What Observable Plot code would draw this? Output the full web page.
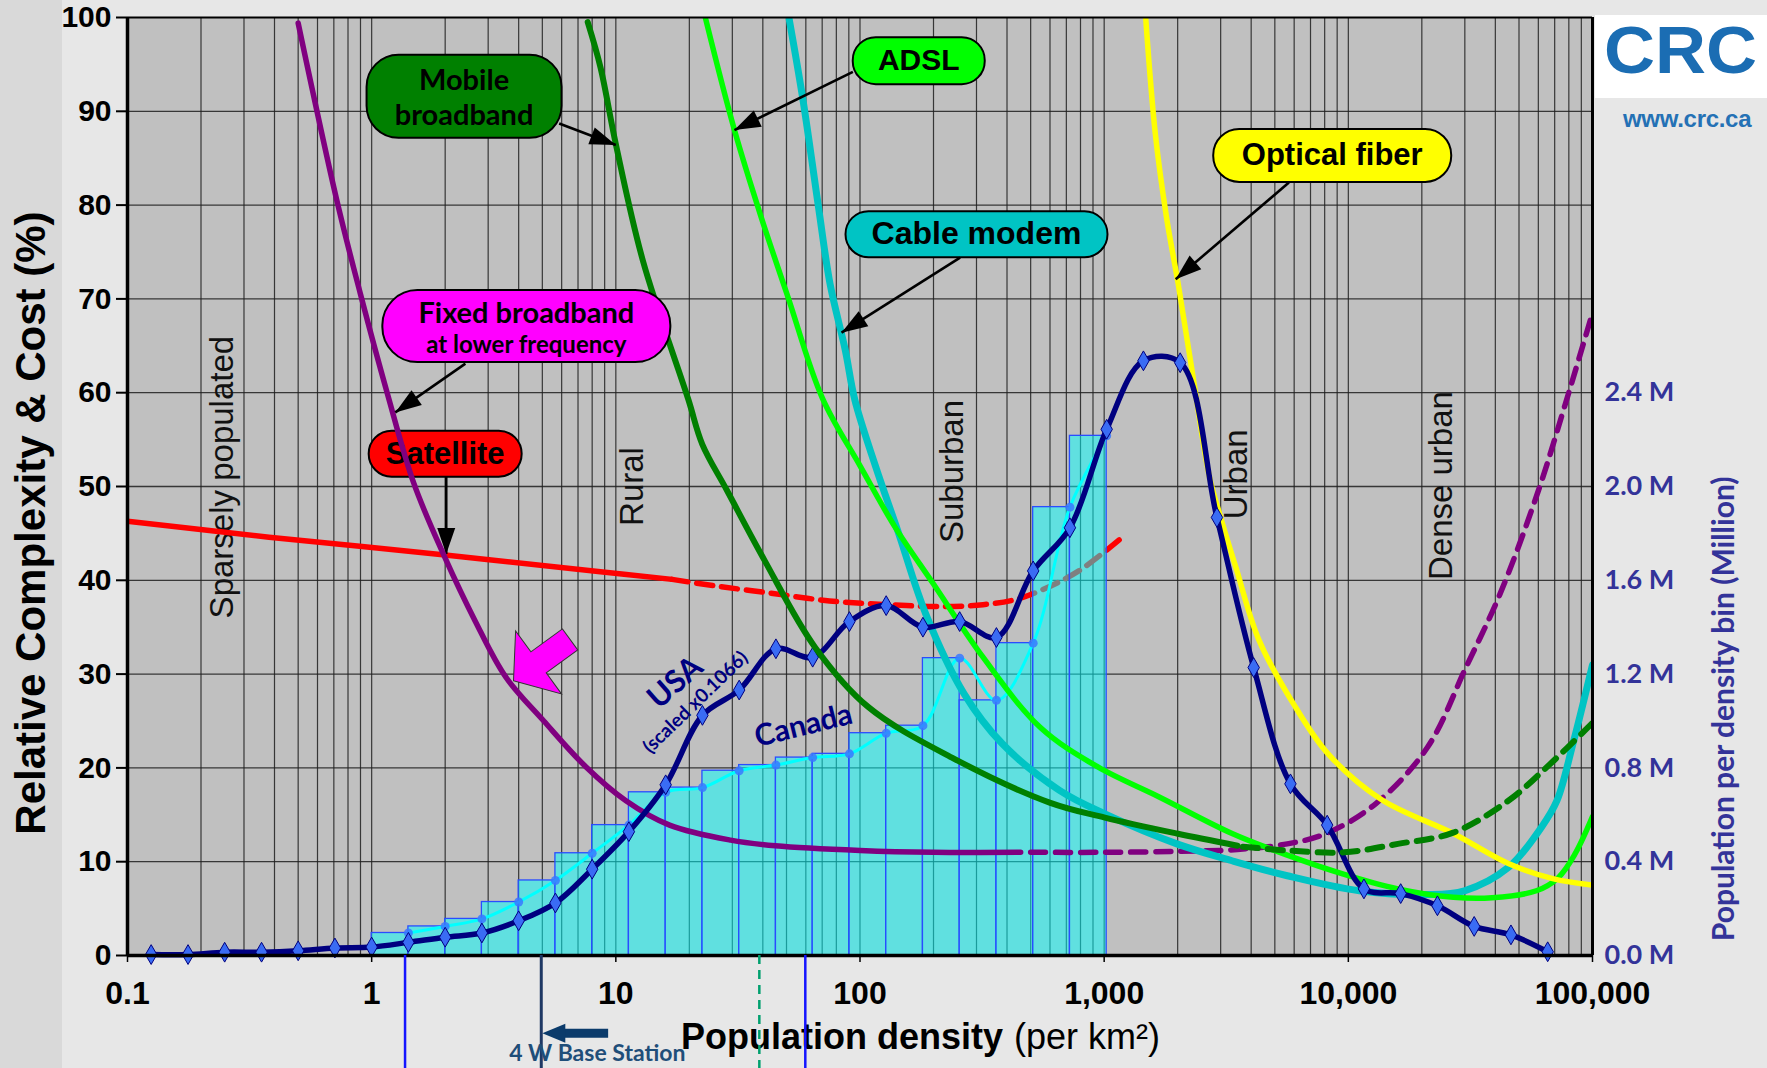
<!DOCTYPE html>
<html>
<head>
<meta charset="utf-8">
<script src="https://cdn.jsdelivr.net/npm/d3@7"></script>
<script src="https://cdn.jsdelivr.net/npm/@observablehq/plot@0.6"></script>
<style>
  html, body { margin: 0; padding: 0; background: #e7e7e7; }
  #page { position: relative; width: 1767px; height: 1068px; overflow: hidden; background: #e7e7e7; }
  #strip { position: absolute; left: 0; top: 0; width: 62px; height: 1068px; background: #d9d9d9; }
  #chart { position: absolute; left: 0; top: 0; }
  #logo { position: absolute; left: 1595px; top: 0px; }
</style>
</head>
<body>
<div id="page">
  <div id="strip"></div>
  <svg id="logo" width="172" height="140" viewBox="0 0 172 140">
    <rect x="0" y="15" width="172" height="83" fill="#ffffff"/>
    <text transform="translate(9,73) scale(1.07,1)" font-family="'Liberation Sans', Arial, sans-serif" font-weight="bold" font-size="66" fill="#1b6db3">CRC</text>
    <text x="28" y="127" font-family="'Liberation Sans', Arial, sans-serif" font-weight="bold" font-size="24" fill="#2471b5" letter-spacing="-0.3">www.crc.ca</text>
  </svg>
  <div id="chart"></div>
</div>
<script>
// ---------------- DATA ----------------
// x axis (population density, per km², log scale)
const xDecades = [0.1, 1, 10, 100, 1000, 10000, 100000];
const xTickLabels = ["0.1", "1", "10", "100", "1,000", "10,000", "100,000"];
// left axis (relative complexity & cost, %)
const yTicks = [0, 10, 20, 30, 40, 50, 60, 70, 80, 90, 100];
// right axis (population per density bin, million)
const rightTicksM = [0, 0.4, 0.8, 1.2, 1.6, 2.0, 2.4];
const MILLION_PER_PCT = 0.04; // 10 % on the left axis  <->  0.4 M on the right axis

// Technology curves (relative complexity & cost, %)
const satSolidX = [0.1, 0.38, 2, 8.65, 17];
const satSolidY = [46.3, 44.6, 42.7, 40.9, 40.1];
const satDashX = [17, 25.5, 44, 75, 129, 222, 319, 427, 548, 787, 1215];
const satDashY = [40.1, 39.4, 38.6, 37.8, 37.4, 37.2, 37.4, 37.9, 38.9, 41.0, 44.8];

const fixedSolidX = [0.5, 0.72, 0.9, 1.16, 1.49, 1.99, 2.65, 3.54, 5.07, 7.55, 11, 16.6, 29.5, 45, 100, 200, 455];
const fixedSolidY = [99.4, 80.5, 70.5, 59.9, 50.3, 42.5, 35.7, 29.7, 25.0, 20.1, 16.5, 13.9, 12.3, 11.7, 11.2, 11.0, 11.0];
const fixedDashX = [500, 1000, 2000, 3510, 5620, 8110, 12970, 21100, 30300, 41900, 60100, 77400, 100000];
const fixedDashY = [11.0, 11.0, 11.1, 11.3, 11.9, 13.0, 16.2, 22.2, 30.7, 38.6, 49.6, 58.8, 68.5];

const mobileSolidX = [7.67, 8.65, 10, 12.9, 19.8, 22.6, 28.5, 40.7, 65.3, 108, 238, 598, 1007, 1985, 3520];
const mobileSolidY = [99.5, 94.7, 86.5, 74.1, 59.3, 54.5, 49.6, 42.1, 32.9, 26.5, 21.1, 16.3, 14.7, 13.0, 11.7];
const mobileDashX = [3700, 5620, 9600, 15950, 26900, 45200, 67000, 100000];
const mobileDashY = [11.6, 11.2, 11.0, 11.9, 13.1, 16.5, 20.4, 24.8];

const adslX = [23.3, 30.6, 39.4, 50.7, 70.2, 100.6, 139, 200, 319, 548, 942, 1680, 3340, 5620, 9480, 15950, 26900, 38800, 58900, 72400, 84700, 100000];
const adslY = [99.9, 88.0, 78.7, 70.2, 59.4, 52.1, 45.7, 39.6, 31.8, 24.3, 20.1, 16.9, 13.0, 10.7, 8.7, 7.1, 6.2, 6.15, 6.9, 8.3, 10.8, 14.8];

const cableX = [51.3, 58.5, 67.6, 75.4, 87.1, 95.3, 116, 144, 186, 267, 382, 656, 1007, 1985, 3340, 5620, 11100, 20800, 29900, 45300, 61900, 71500, 83200, 100000];
const cableY = [99.8, 91.1, 79.8, 71.6, 64.5, 59.2, 52.1, 45.0, 36.4, 27.9, 22.6, 17.6, 15.1, 11.9, 10.1, 8.5, 6.9, 6.5, 6.9, 9.4, 13.7, 16.5, 22.6, 31.0];

const fiberX = [1480, 1620, 1800, 2010, 2280, 2700, 3000, 3460, 4310, 5970, 8260, 13700, 26900, 45200, 68700, 100000];
const fiberY = [99.9, 87.6, 78.7, 71.6, 62.7, 51.0, 46.7, 41.4, 33.6, 26.8, 21.5, 16.6, 13.0, 9.8, 8.2, 7.5];

// Canada: population per density bin (million); bins are factor-√2 wide from 1 to 1024 per km²
const canadaBinEdges = [1, 1.414, 2, 2.828, 4, 5.657, 8, 11.31, 16, 22.63, 32, 45.25, 64, 90.51, 128, 181.0, 256, 362.0, 512, 724.1, 1024];
const canadaPopM = [0.096, 0.124, 0.156, 0.228, 0.32, 0.436, 0.556, 0.696, 0.716, 0.788, 0.812, 0.844, 0.86, 0.948, 0.98, 1.268, 1.088, 1.332, 1.912, 2.216];

// USA (scaled x0.1066): population per density bin (million)
const usaDensity = [0.125, 0.177, 0.25, 0.354, 0.5, 0.707, 1, 1.414, 2, 2.828, 4, 5.657, 8, 11.31, 16, 22.63, 32, 45.25, 64, 90.51, 128, 181.0, 256, 362.0, 512, 724.1, 1024, 1448, 2048, 2896, 4096, 5793, 8192, 11585, 16384, 23170, 32768, 46341, 65536];
const usaPopM = [0.004, 0.004, 0.014, 0.014, 0.02, 0.032, 0.036, 0.056, 0.078, 0.096, 0.148, 0.224, 0.368, 0.528, 0.728, 1.024, 1.132, 1.308, 1.272, 1.424, 1.492, 1.40, 1.424, 1.356, 1.64, 1.824, 2.244, 2.536, 2.528, 1.868, 1.228, 0.732, 0.556, 0.284, 0.264, 0.212, 0.124, 0.088, 0.016];

// Region labels
const regionNames = ["Sparsely populated", "Rural", "Suburban", "Urban", "Dense urban"];

// ---------------- LAYOUT ----------------
const W = 1767, H = 1068, ML = 127, MR = 175, MT = 17, MB = 113;
const ARIAL = "'Liberation Sans', Arial, Helvetica, sans-serif";
const CALIBRI = "Lato, 'Open Sans', sans-serif";
const X = Plot.scale({x: {type: "log", domain: [0.1, 1e5], range: [ML, W - MR]}});
const Y = Plot.scale({y: {type: "linear", domain: [0, 100], range: [H - MB, MT]}});
const angleOf = (a) => Math.atan2(Y.apply(a.y2) - Y.apply(a.y1), X.apply(a.x2) - X.apply(a.x1)) * 180 / Math.PI;

const pts = (xs, ys) => xs.map((x, i) => ({x, y: ys[i]}));
const toPct = (m) => m / MILLION_PER_PCT;

const minorX = d3.range(-1, 5).flatMap(e => d3.range(1, 10).map(m => m * Math.pow(10, e))).filter(v => v > 0.1);

const canadaBars = canadaPopM.map((v, i) => ({x1: canadaBinEdges[i], x2: canadaBinEdges[i + 1], y: toPct(v)}));
const canadaPts = canadaPopM.map((v, i) => ({x: canadaBinEdges[i + 1], y: toPct(v)}));
const usaPts = usaPopM.map((v, i) => ({x: usaDensity[i], y: toPct(v)}));

// symbols
function roundRect(w, h, r) {
  return {draw(ctx) {
    const x0 = -w / 2, y0 = -h / 2, x1 = w / 2, y1 = h / 2;
    ctx.moveTo(x0 + r, y0);
    ctx.lineTo(x1 - r, y0);
    ctx.arcTo(x1, y0, x1, y0 + r, r);
    ctx.lineTo(x1, y1 - r);
    ctx.arcTo(x1, y1, x1 - r, y1, r);
    ctx.lineTo(x0 + r, y1);
    ctx.arcTo(x0, y1, x0, y1 - r, r);
    ctx.lineTo(x0, y0 + r);
    ctx.arcTo(x0, y0, x0 + r, y0, r);
    ctx.closePath();
  }};
}
function headSym(L, Wd) {
  return {draw(ctx) { ctx.moveTo(0, 0); ctx.lineTo(-L, -Wd / 2); ctx.lineTo(-L, Wd / 2); ctx.closePath(); }};
}
const blockArrowSym = {draw(ctx) {
  const Lh = 31, Wh = 78, Ws = 26, Lt = 70;
  ctx.moveTo(0, 0); ctx.lineTo(-Lh, -Wh / 2); ctx.lineTo(-Lh, -Ws / 2); ctx.lineTo(-Lt, -Ws / 2);
  ctx.lineTo(-Lt, Ws / 2); ctx.lineTo(-Lh, Ws / 2); ctx.lineTo(-Lh, Wh / 2); ctx.closePath();
}};

// callout boxes (center in data coordinates, box size in px)
const boxes = [
  {key: "mobile", x: 2.39, y: 91.6, w: 195, h: 83, r: 32, fill: "#008000"},
  {key: "adsl", x: 174, y: 95.4, w: 132, h: 47, r: 23, fill: "#00ff00"},
  {key: "cable", x: 300, y: 76.9, w: 262, h: 46, r: 23, fill: "#00c4c4"},
  {key: "fiber", x: 8590, y: 85.3, w: 238, h: 53, r: 26, fill: "#ffff00"},
  {key: "fixed", x: 4.3, y: 67.1, w: 288, h: 72, r: 35, fill: "#ff00ff"},
  {key: "sat", x: 2.0, y: 53.5, w: 153, h: 46, r: 23, fill: "#ff0000"}
];
const pointers = [
  {key: "mobile", x1: 5.86, y1: 88.7, x2: 10, y2: 86.4},
  {key: "adsl", x1: 93.5, y1: 94.2, x2: 30.6, y2: 88.0},
  {key: "cable", x1: 257, y1: 74.4, x2: 84, y2: 66.4},
  {key: "fiber", x1: 5710, y1: 82.4, x2: 1963, y2: 72.1},
  {key: "fixed", x1: 2.42, y1: 63.1, x2: 1.25, y2: 57.9},
  {key: "sat", x1: 2.02, y1: 51.1, x2: 2.02, y2: 42.8}
];
pointers.forEach(p => p.angle = angleOf(p));
const blockArrow = [{x1: 6.5, y1: 33.7, x2: 3.81, y2: 29.3}];
blockArrow.forEach(p => p.angle = angleOf(p));

const boxMark = (b) => Plot.dot([b], {x: "x", y: "y", r: 10, symbol: roundRect(b.w, b.h, b.r), fill: b.fill, stroke: "black", strokeWidth: 2});
const pointerMarks = (list) => [
  Plot.link(list, {x1: "x1", y1: "y1", x2: "x2", y2: "y2", stroke: "black", strokeWidth: 2.6}),
  Plot.dot(list, {x: "x2", y: "y2", r: 10, symbol: headSym(26, 18), rotate: "angle", fill: "black"})
];
const byKey = (k) => boxes.filter(b => b.key === k);
const ptrKey = (ks) => pointers.filter(p => ks.includes(p.key));

const curve = "catmull-rom";
const lineOf = (data, stroke, w, dash) => Plot.line(data, {x: "x", y: "y", stroke, strokeWidth: w, curve, clip: true, strokeDasharray: dash});

const regionPos = [
  {x: 0.244, y: 51.0}, {x: 11.66, y: 50.0}, {x: 240, y: 51.6}, {x: 3475, y: 51.3}, {x: 24000, y: 50.1}
].map((p, i) => ({...p, label: regionNames[i]}));

const boxText = (k, text, font, size, weight, dy = 0, lh = 1) => {
  const b = byKey(k)[0];
  return Plot.text([b], {x: "x", y: "y", text: () => text, fontFamily: font, fontSize: size, fontWeight: weight, fill: "black", dy, lineHeight: lh});
};

const chart = Plot.plot({
  width: W, height: H,
  marginLeft: ML, marginRight: MR, marginTop: MT, marginBottom: MB,
  x: {type: "log", domain: [0.1, 1e5], label: null},
  y: {domain: [0, 100], label: null},
  style: {background: "transparent", fontFamily: ARIAL, overflow: "visible"},
  marks: [
    Plot.frame({fill: "#c0c0c0"}),
    Plot.ruleX(minorX, {stroke: "#1e1e1e", strokeWidth: 1.2, strokeOpacity: 0.85}),
    Plot.ruleY(yTicks.filter(d => d > 0 && d < 100), {stroke: "#1e1e1e", strokeWidth: 1.3, strokeOpacity: 0.85}),

    // region labels
    Plot.text(regionPos, {x: "x", y: "y", text: "label", rotate: -90, fontSize: 33, fontFamily: ARIAL, fill: "#111"}),

    // Satellite (under the semi-transparent bars)
    lineOf(pts(satSolidX, satSolidY), "#ff0000", 5.5),
    lineOf(pts(satDashX, satDashY), "#ff0000", 5.5, "16,9"),

    // Canada histogram
    Plot.rect(canadaBars, {x1: "x1", x2: "x2", y1: 0, y2: "y", fill: "#00ffff", fillOpacity: 0.5, stroke: "#2a4cff", strokeWidth: 1.3}),
    Plot.line(canadaPts, {x: "x", y: "y", stroke: "#00ffff", strokeWidth: 3, curve}),
    Plot.dot(canadaPts, {x: "x", y: "y", r: 4.5, fill: "#3a78ff", fillOpacity: 0.85}),

    // Satellite callout (purple crosses over it)
    boxMark(byKey("sat")[0]),
    boxText("sat", "Satellite", ARIAL, 31, "bold"),
    ...pointerMarks(ptrKey(["sat"])),

    // Fixed broadband at lower frequency (purple)
    lineOf(pts(fixedSolidX, fixedSolidY), "#800080", 5.5),
    lineOf(pts(fixedDashX, fixedDashY), "#800080", 5.5, "15,10"),

    // Cable, ADSL, Fiber
    lineOf(pts(cableX, cableY), "#00c4c4", 7),
    lineOf(pts(adslX, adslY), "#00ff00", 5.5),
    lineOf(pts(fiberX, fiberY), "#ffff00", 5.5),

    // USA
    Plot.line(usaPts, {x: "x", y: "y", stroke: "#000080", strokeWidth: 5.5, curve}),
    Plot.dot(usaPts, {x: "x", y: "y", symbol: "diamond", r: 6, fill: "#3a6cf4", stroke: "#000080", strokeWidth: 1}),

    // Mobile broadband (dark green)
    lineOf(pts(mobileSolidX, mobileSolidY), "#008000", 6),
    lineOf(pts(mobileDashX, mobileDashY), "#008000", 6, "15,10"),

    // USA / Canada labels
    Plot.text(["USA"], {x: 17.5, y: 29.1, text: d => d, rotate: -41, fontFamily: CALIBRI, fontWeight: "bold", fontSize: 31, fill: "#000080"}),
    Plot.text(["(scaled x0.1066)"], {x: 21.2, y: 27.0, text: d => d, rotate: -44, fontFamily: CALIBRI, fontWeight: "bold", fontSize: 19, fill: "#000080"}),
    Plot.text(["Canada"], {x: 58.7, y: 24.5, text: d => d, rotate: -14, fontFamily: CALIBRI, fontWeight: "bold", fontSize: 30, fill: "#000080"}),

    // other callouts
    boxMark(byKey("mobile")[0]),
    boxText("mobile", "Mobile\nbroadband", CALIBRI, 29, "bold", 0, 1.2),
    boxMark(byKey("adsl")[0]),
    boxText("adsl", "ADSL", ARIAL, 30, "bold"),
    boxMark(byKey("cable")[0]),
    boxText("cable", "Cable modem", ARIAL, 32, "bold"),
    boxMark(byKey("fiber")[0]),
    boxText("fiber", "Optical fiber", ARIAL, 31, "bold"),
    boxMark(byKey("fixed")[0]),
    boxText("fixed", "Fixed broadband", CALIBRI, 29, "bold", -12),
    boxText("fixed", "at lower frequency", CALIBRI, 24, "bold", 19),
    ...pointerMarks(ptrKey(["mobile", "adsl", "cable", "fiber", "fixed"])),

    // magenta block arrow
    Plot.dot(blockArrow, {x: "x2", y: "y2", r: 10, symbol: blockArrowSym, rotate: "angle", fill: "#ff00ff", stroke: "#333", strokeWidth: 1}),

    // axes
    Plot.axisY(yTicks, {anchor: "left", tickSize: 11, tickPadding: 5, tickFormat: d => String(d), fontSize: 30, fontWeight: "bold", fontFamily: ARIAL, color: "black", strokeWidth: 2, label: null}),
    Plot.axisY(rightTicksM.map(toPct), {anchor: "right", tickSize: 0, tickPadding: 12, tickFormat: v => (v * MILLION_PER_PCT).toFixed(1) + " M", fontSize: 27, fontWeight: "bold", fontFamily: CALIBRI, color: "#333399", label: null}),
    Plot.axisX(xDecades, {anchor: "bottom", tickSize: 7, tickPadding: 19, tickFormat: d => xTickLabels[xDecades.indexOf(d)], fontSize: 32, fontWeight: "bold", fontFamily: ARIAL, color: "black", strokeWidth: 1.5, label: null}),
    Plot.ruleX([0.1], {stroke: "black", strokeWidth: 3.5}),
    Plot.ruleX([1e5], {stroke: "black", strokeWidth: 3}),
    Plot.ruleY([0], {stroke: "black", strokeWidth: 3.5}),
    Plot.ruleY([100], {stroke: "black", strokeWidth: 2}),

    // axis titles
    Plot.text(["Relative Complexity & Cost (%)"], {x: 0.1, y: 46.1, dx: -96, text: d => d, rotate: -90, fontSize: 42, fontWeight: "bold", fontFamily: ARIAL, fill: "black"}),
    Plot.text(["Population per density bin (Million)"], {x: 1e5, y: 26.3, dx: 132, text: d => d, rotate: -90, fontSize: 30, fontWeight: "bold", fontFamily: CALIBRI, fill: "#333399"}),
    Plot.text(["Population density"], {x: 400, y: -8.7, dx: -4, text: d => d, textAnchor: "end", fontSize: 36, fontWeight: "bold", fontFamily: ARIAL, fill: "black"}),
    Plot.text(["(per km²)"], {x: 400, y: -8.7, dx: 7, text: d => d, textAnchor: "start", fontSize: 36, fontFamily: ARIAL, fill: "black"}),

    // base-station range markers below the axis
    Plot.ruleX([1.37, 59.7], {y1: 0, y2: -12.5, stroke: "#1515ff", strokeWidth: 2.5}),
    Plot.ruleX([4.95], {y1: 0, y2: -12.5, stroke: "#1f3864", strokeWidth: 3}),
    Plot.ruleX([38.7], {y1: 0, y2: -12.5, stroke: "#00a06e", strokeWidth: 2.5, strokeDasharray: "9,6"}),
    Plot.link([{x1: 9.3, x2: 6.0, y: -8.3}], {x1: "x1", x2: "x2", y1: "y", y2: "y", stroke: "#0b3b6b", strokeWidth: 9}),
    Plot.dot([{x: 5.0, y: -8.3}], {x: "x", y: "y", r: 10, symbol: headSym(23, 19), rotate: 180, fill: "#0b3b6b"}),
    Plot.text(["4 W Base Station"], {x: 8.4, y: -10.5, text: d => d, fontSize: 23, fontWeight: "bold", fontFamily: CALIBRI, fill: "#1f4e79"})
  ]
});
document.getElementById("chart").appendChild(chart);
</script>
</body>
</html>
